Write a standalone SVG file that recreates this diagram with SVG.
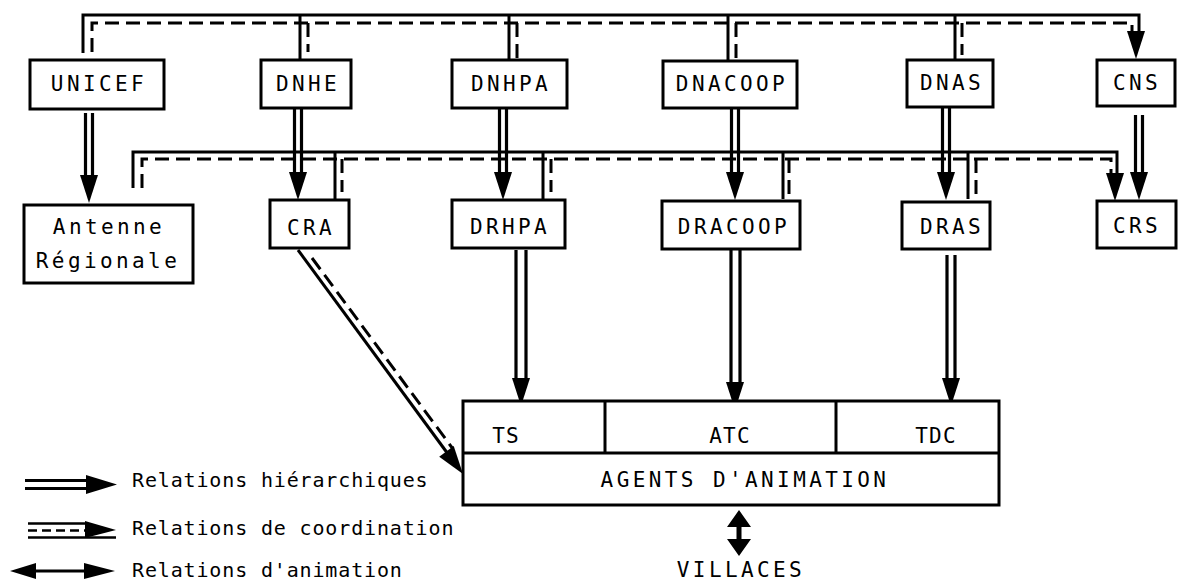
<svg xmlns="http://www.w3.org/2000/svg" xmlns:xlink="http://www.w3.org/1999/xlink" width="1182" height="584" viewBox="0 0 1182 584">
<style>
.box{fill:#fff;stroke:#000;stroke-width:3}
.t{font-family:"DejaVu Sans Mono","Liberation Mono",monospace;font-size:21px;letter-spacing:3.4px;fill:#000;text-anchor:middle}
.ts{font-family:"DejaVu Sans Mono","Liberation Mono",monospace;font-size:21px;letter-spacing:1.2px;fill:#000;text-anchor:middle}
.lg{font-family:"DejaVu Sans Mono","Liberation Mono",monospace;font-size:20px;letter-spacing:0.85px;fill:#000}
.s{fill:none;stroke:#000;stroke-width:3}
.d{fill:none;stroke:#000;stroke-width:3;stroke-dasharray:14 7}
.h{fill:none;stroke:#000;stroke-width:3.2}
.head{fill:#000}
</style>
<defs>
<path id="ah" d="M-9,-28 L9,-28 L0,0 Z"/>
</defs>
<rect width="1182" height="584" fill="#fff"/>

<g id="connectors">
  <!-- top coordination line -->
  <path class="s" d="M83,53 V15 H1139 V34 M300,15 V60 M509,15 V60 M728,15 V60 M955,15 V60"/>
  <path class="d" d="M92,52 V23 H1132 V34 M308,23 V52 M517,23 V60 M736,23 V58 M962,23 V55"/>
  <use href="#ah" class="head" x="1136" y="59"/>
  <!-- second level coordination line -->
  <path class="s" d="M133,188 V152 H1117 V175 M335,152 V199 M543,152 V199 M783,152 V199 M968,152 V199"/>
  <path class="d" d="M142,188 V159 H1111 V175 M342,159 V192 M551,159 V192 M789,159 V194 M976,159 V195"/>
  <use href="#ah" class="head" x="1115" y="201"/>
  <!-- hierarchical arrows, upper -->
  <path class="h" d="M85.5,113 V176 M92.5,113 V176"/>
  <use href="#ah" class="head" x="89" y="203"/>
  <path class="h" d="M294.5,108 V174 M301.5,108 V174"/>
  <use href="#ah" class="head" x="298" y="200"/>
  <path class="h" d="M499.5,108 V174 M506.5,108 V174"/>
  <use href="#ah" class="head" x="503" y="200"/>
  <path class="h" d="M731.5,108 V174 M738.5,108 V174"/>
  <use href="#ah" class="head" x="735" y="200"/>
  <path class="h" d="M942.5,108 V174 M949.5,108 V174"/>
  <use href="#ah" class="head" x="946" y="200"/>
  <path class="h" d="M1135.5,115 V174 M1142.5,115 V174"/>
  <use href="#ah" class="head" x="1139" y="200"/>
  <!-- hierarchical arrows, lower -->
  <path class="h" d="M516,250 V380 M526,250 V380"/>
  <use href="#ah" class="head" x="521" y="406"/>
  <path class="h" d="M731,250 V384 M740,250 V384"/>
  <use href="#ah" class="head" x="735" y="410"/>
  <path class="h" d="M947,255 V380 M955,255 V380"/>
  <use href="#ah" class="head" x="951" y="406"/>
  <!-- CRA diagonal -->
  <path class="s" d="M298,250 L448,454"/>
  <path class="d" d="M312,258 L453,449"/>
  <use href="#ah" class="head" transform="translate(463,474) rotate(-36.2)"/>
  <!-- animation arrow to villages -->
  <path class="head" d="M739,510 L751,527 L741.5,527 L741.5,539 L751,539 L739,556 L727,539 L736.5,539 L736.5,527 L727,527 Z"/>
</g>

<g id="UNICEF"><rect class="box" x="30" y="60" width="134" height="49"/><text class="t" x="99" y="91">UNICEF</text></g>
<g id="DNHE"><rect class="box" x="261" y="60" width="90" height="48"/><text class="t" x="308" y="91">DNHE</text></g>
<g id="DNHPA"><rect class="box" x="452" y="60" width="115" height="48"/><text class="t" x="511" y="91">DNHPA</text></g>
<g id="DNACOOP"><rect class="box" x="663" y="61" width="134" height="47"/><text class="t" x="732" y="91">DNACOOP</text></g>
<g id="DNAS"><rect class="box" x="907" y="60" width="86" height="47"/><text class="t" x="952" y="90">DNAS</text></g>
<g id="CNS"><rect class="box" x="1097" y="60" width="78" height="46"/><text class="t" x="1137" y="90">CNS</text></g>

<g id="Antenne"><rect class="box" x="24" y="205" width="169" height="78"/><text class="t" x="109" y="234">Antenne</text><text class="t" x="108" y="268">Régionale</text></g>
<g id="CRA"><rect class="box" x="270" y="200" width="79" height="48"/><text class="t" x="311" y="235">CRA</text></g>
<g id="DRHPA"><rect class="box" x="452" y="200" width="113" height="48"/><text class="t" x="510" y="234">DRHPA</text></g>
<g id="DRACOOP"><rect class="box" x="662" y="201" width="138" height="48"/><text class="t" x="734" y="234">DRACOOP</text></g>
<g id="DRAS"><rect class="box" x="902" y="202" width="88" height="47"/><text class="t" x="952" y="234">DRAS</text></g>
<g id="CRS"><rect class="box" x="1097" y="201" width="79" height="47"/><text class="t" x="1137" y="233">CRS</text></g>

<g id="AGENTS">
  <rect class="box" x="463" y="401" width="536" height="104"/>
  <path class="s" d="M463,453 H999 M605,401 V453 M836,401 V453"/>
  <text class="ts" x="506" y="443">TS</text>
  <text class="ts" x="730" y="443">ATC</text>
  <text class="ts" x="936" y="443">TDC</text>
  <text class="t" x="745" y="487">AGENTS D'ANIMATION</text>
</g>
<g id="VILLACES"><text class="t" x="741" y="577">VILLACES</text></g>

<g id="legend">
  <path class="h" d="M25,480.5 H90 M25,488.5 H90"/>
  <path class="head" d="M86,475 L117,484.5 L86,494 Z"/>
  <text class="lg" x="132" y="487">Relations hiérarchiques</text>
  <path class="s" d="M28,523.5 H88 M28,537.5 H116" style="stroke-width:2.5"/>
  <path class="d" d="M28,530.5 H88" style="stroke-width:2.5;stroke-dasharray:9 5"/>
  <path class="head" d="M85,521 L116,530 L85,538 Z"/>
  <text class="lg" x="132" y="535">Relations de coordination</text>
  <path class="s" d="M35,571 H85"/>
  <path class="head" d="M10,571 L36,563 L36,579 Z M84,563 L115,571 L84,579 Z"/>
  <text class="lg" x="132" y="577">Relations d'animation</text>
</g>
</svg>
